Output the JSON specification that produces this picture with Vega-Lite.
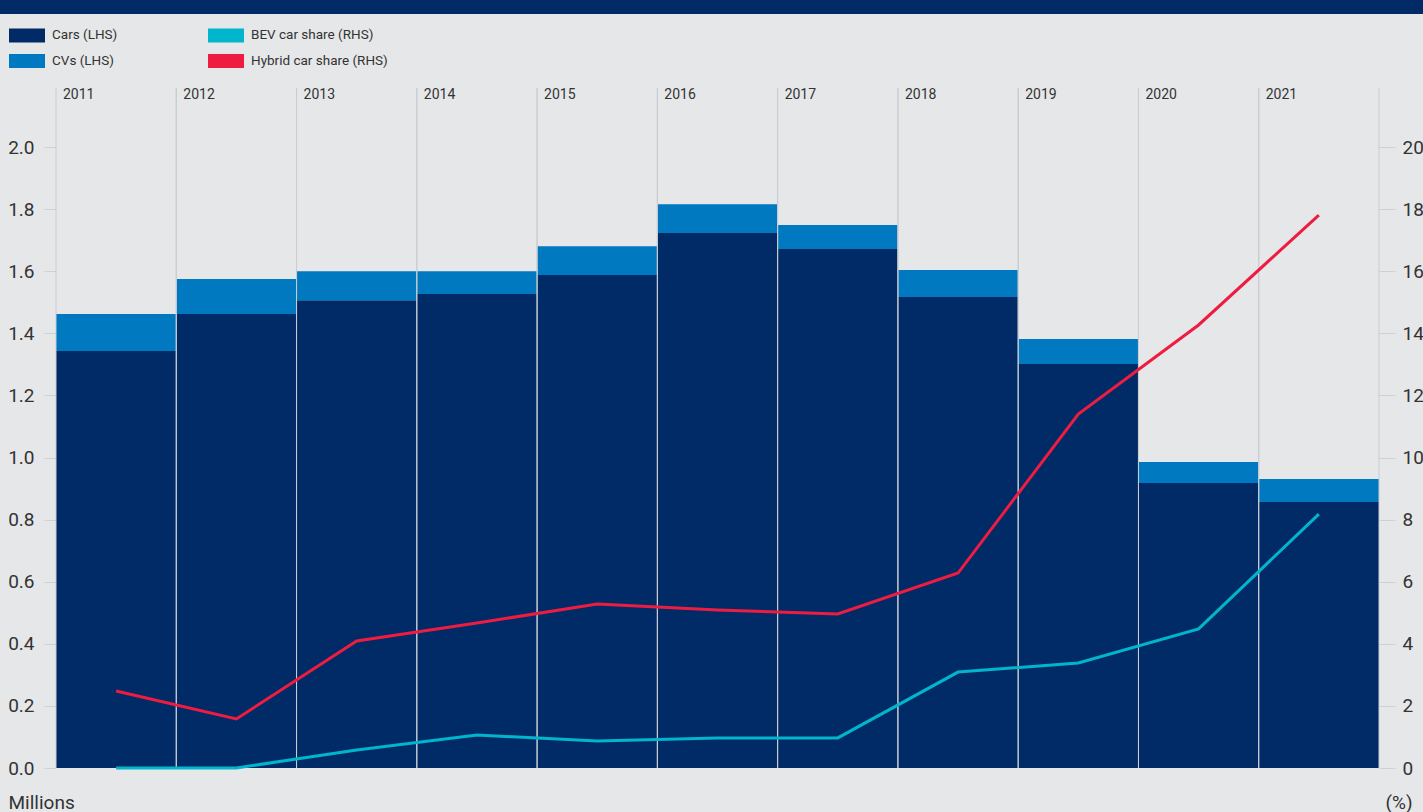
{
  "$schema": "https://vega.github.io/schema/vega-lite/v6.json",
  "width": 1423,
  "height": 798,
  "autosize": {"type": "none"},
  "padding": {"top": 14, "left": 0, "right": 0, "bottom": 0},
  "background": "#002b66",
  "view": {"fill": "#e6e7e9", "stroke": null},
  "config": {"font": "Roboto", "text": {"font": "Roboto"}},
  "datasets": {
    "bars": [
      {"year": "2011", "series": "Cars (LHS)", "value": 1.343},
      {"year": "2012", "series": "Cars (LHS)", "value": 1.462},
      {"year": "2013", "series": "Cars (LHS)", "value": 1.507},
      {"year": "2014", "series": "Cars (LHS)", "value": 1.527},
      {"year": "2015", "series": "Cars (LHS)", "value": 1.588},
      {"year": "2016", "series": "Cars (LHS)", "value": 1.723},
      {"year": "2017", "series": "Cars (LHS)", "value": 1.672},
      {"year": "2018", "series": "Cars (LHS)", "value": 1.517},
      {"year": "2019", "series": "Cars (LHS)", "value": 1.301},
      {"year": "2020", "series": "Cars (LHS)", "value": 0.918},
      {"year": "2021", "series": "Cars (LHS)", "value": 0.857},
      {"year": "2011", "series": "CVs (LHS)", "value": 0.119},
      {"year": "2012", "series": "CVs (LHS)", "value": 0.113},
      {"year": "2013", "series": "CVs (LHS)", "value": 0.093},
      {"year": "2014", "series": "CVs (LHS)", "value": 0.073},
      {"year": "2015", "series": "CVs (LHS)", "value": 0.093},
      {"year": "2016", "series": "CVs (LHS)", "value": 0.093},
      {"year": "2017", "series": "CVs (LHS)", "value": 0.077},
      {"year": "2018", "series": "CVs (LHS)", "value": 0.087},
      {"year": "2019", "series": "CVs (LHS)", "value": 0.081},
      {"year": "2020", "series": "CVs (LHS)", "value": 0.068},
      {"year": "2021", "series": "CVs (LHS)", "value": 0.074}
    ],
    "lines": [
      {"year": "2011", "series": "Hybrid car share (RHS)", "value": 2.48},
      {"year": "2012", "series": "Hybrid car share (RHS)", "value": 1.58},
      {"year": "2013", "series": "Hybrid car share (RHS)", "value": 4.09},
      {"year": "2014", "series": "Hybrid car share (RHS)", "value": 4.67},
      {"year": "2015", "series": "Hybrid car share (RHS)", "value": 5.28},
      {"year": "2016", "series": "Hybrid car share (RHS)", "value": 5.09},
      {"year": "2017", "series": "Hybrid car share (RHS)", "value": 4.96},
      {"year": "2018", "series": "Hybrid car share (RHS)", "value": 6.28},
      {"year": "2019", "series": "Hybrid car share (RHS)", "value": 11.4},
      {"year": "2020", "series": "Hybrid car share (RHS)", "value": 14.27},
      {"year": "2021", "series": "Hybrid car share (RHS)", "value": 17.81},
      {"year": "2011", "series": "BEV car share (RHS)", "value": 0.0},
      {"year": "2012", "series": "BEV car share (RHS)", "value": 0.0},
      {"year": "2013", "series": "BEV car share (RHS)", "value": 0.58},
      {"year": "2014", "series": "BEV car share (RHS)", "value": 1.06},
      {"year": "2015", "series": "BEV car share (RHS)", "value": 0.87},
      {"year": "2016", "series": "BEV car share (RHS)", "value": 0.97},
      {"year": "2017", "series": "BEV car share (RHS)", "value": 0.97},
      {"year": "2018", "series": "BEV car share (RHS)", "value": 3.09},
      {"year": "2019", "series": "BEV car share (RHS)", "value": 3.38},
      {"year": "2020", "series": "BEV car share (RHS)", "value": 4.48},
      {"year": "2021", "series": "BEV car share (RHS)", "value": 8.18}
    ]
  },
  "layer": [
    {
      "layer": [
        {
          "data": {"name": "bars"},
          "mark": {"type": "bar"},
          "encoding": {
            "x": {"field": "year", "type": "ordinal", "scale": {"range": [56, 1379], "paddingInner": 0, "paddingOuter": 0}, "axis": null},
            "y": {
              "field": "value", "type": "quantitative", "stack": "zero",
              "scale": {"domain": [0, 2.2], "range": [754, 71], "nice": false},
              "axis": {
                "orient": "left", "offset": -56,
                "values": [0, 0.2, 0.4, 0.6, 0.8, 1.0, 1.2, 1.4, 1.6, 1.8, 2.0],
                "format": ".1f", "domain": false, "grid": false,
                "tickColor": "#cfd0d3", "tickSize": 12, "tickWidth": 1,
                "labelPadding": 10, "labelFontSize": 19, "labelColor": "#333333", "labelFontWeight": "normal",
                "labelOverlap": false, "labelFlush": false,
                "title": "Millions", "titleAngle": 0, "titleX": -48, "titleY": 794,
                "titleAlign": "left", "titleBaseline": "alphabetic",
                "titleFontSize": 19, "titleFontWeight": "normal", "titleColor": "#333333"
              }
            },
            "color": {
              "field": "series", "type": "nominal",
              "scale": {
                "domain": ["Cars (LHS)", "CVs (LHS)", "BEV car share (RHS)", "Hybrid car share (RHS)"],
                "range": ["#002b66", "#0079c1", "#00b5cc", "#ee1c40"]
              },
              "legend": {
                "orient": "none", "legendX": 9, "legendY": 3, "title": null,
                "columns": 2, "columnPadding": 90, "rowPadding": -11,
                "symbolType": "M-1,-0.39H1V0.39H-1Z", "symbolSize": 1296,
                "symbolStrokeWidth": 0, "symbolOpacity": 1,
                "labelFontSize": 13.5, "labelColor": "#333333", "labelOffset": 7, "labelFontWeight": "normal",
                "padding": 0,
                "encode": {"symbols": {"update": {"fill": {"scale": "color", "field": "value"}, "strokeWidth": {"value": 0}, "opacity": {"value": 1}}}}
              }
            },
            "order": {"field": "series", "sort": "descending"}
          }
        },
        {
          "data": {"name": "bars"},
          "transform": [{"filter": "datum.series == 'Cars (LHS)'"}],
          "mark": {"type": "rule", "color": "#c9ccd2", "strokeWidth": 1},
          "encoding": {
            "x": {"field": "year", "type": "ordinal", "bandPosition": 0},
            "y": {"datum": 0},
            "y2": {"datum": 2.19}
          }
        },
        {
          "data": {"name": "bars"},
          "transform": [{"filter": "datum.series == 'Cars (LHS)'"}],
          "mark": {"type": "rule", "color": "#c9ccd2", "strokeWidth": 1},
          "encoding": {
            "x": {"field": "year", "type": "ordinal", "bandPosition": 1},
            "y": {"datum": 0},
            "y2": {"datum": 2.19}
          }
        },
        {
          "data": {"name": "bars"},
          "transform": [{"filter": "datum.series == 'Cars (LHS)'"}],
          "mark": {"type": "text", "align": "left", "baseline": "top", "dx": 7, "dy": 3, "fontSize": 14, "fontWeight": "normal", "color": "#333333"},
          "encoding": {
            "x": {"field": "year", "type": "ordinal", "bandPosition": 0},
            "y": {"datum": 2.2},
            "text": {"field": "year"}
          }
        }
      ]
    },
    {
      "data": {"name": "lines"},
      "mark": {"type": "line", "strokeWidth": 3},
      "encoding": {
        "x": {"field": "year", "type": "ordinal"},
        "y": {
          "field": "value", "type": "quantitative",
          "scale": {"domain": [0, 22], "range": [754, 71], "nice": false},
          "axis": {
            "orient": "right", "offset": -44,
            "values": [0, 2, 4, 6, 8, 10, 12, 14, 16, 18, 20],
            "domain": false, "grid": false,
            "tickColor": "#cfd0d3", "tickSize": 16, "tickWidth": 1,
            "labelPadding": 7, "labelFontSize": 19, "labelColor": "#333333", "labelFontWeight": "normal",
            "labelOverlap": false, "labelFlush": false,
            "title": "(%)", "titleAngle": 0, "titleX": 6, "titleY": 794,
            "titleAlign": "left", "titleBaseline": "alphabetic",
            "titleFontSize": 19, "titleFontWeight": "normal", "titleColor": "#333333"
          }
        },
        "color": {"field": "series", "type": "nominal"}
      }
    }
  ],
  "resolve": {"scale": {"y": "independent"}, "axis": {"y": "independent"}}
}
